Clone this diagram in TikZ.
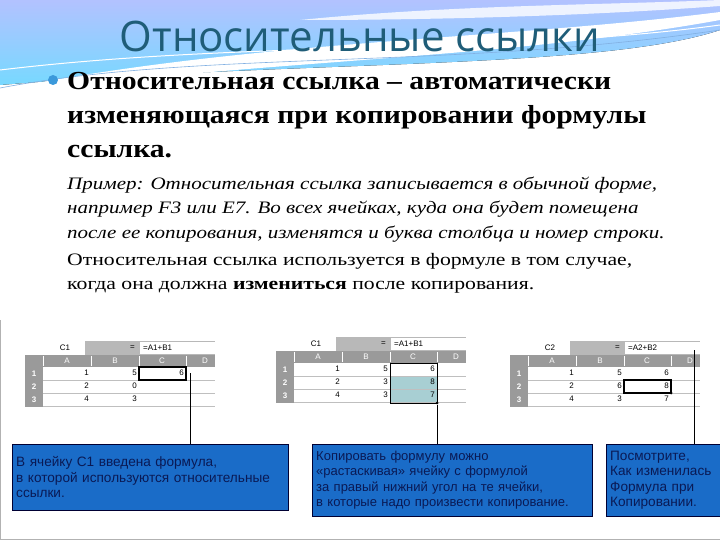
\documentclass[tikz,border=0pt]{standalone}
\usepackage{fontspec}
\setmainfont{Liberation Serif}
\newfontfamily\titlefont{Open Sans}
\newfontfamily\boxfont{Liberation Sans}
\begin{document}
\begin{tikzpicture}[x=1pt,y=-1pt,
  boxstyle/.style={draw=black!80!blue,fill=boxblue,anchor=north west,inner sep=4pt,align=left,text=navy,font=\boxfont\fontsize{13.6}{15.5}\selectfont},
  cellnum/.style={font=\boxfont\fontsize{8}{9}\selectfont,anchor=east,inner sep=1pt},
  hdr/.style={font=\boxfont\fontsize{8}{9}\selectfont,inner sep=1pt},
  bodytext/.style={anchor=base west,inner sep=0pt}]
\definecolor{boxblue}{HTML}{1A6CC8}
\definecolor{navy}{HTML}{0A1A55}
\definecolor{titleblue}{HTML}{1F5D78}
\definecolor{hgrey}{HTML}{9A9A9A}
\definecolor{cellshade}{HTML}{A8CFD3}
\useasboundingbox (0,0) rectangle (720,540);
\fill[white] (0,0) rectangle (720,540);
% header wave
\fill[top color=cyan!20!blue!30!white,bottom color=cyan!45!white!85!blue] (0,0) -- (720,0) -- (720,30) .. controls (600,70) and (300,60) .. (0,85) -- cycle;
\fill[white] (0,90) .. controls (250,40) and (500,40) .. (720,12) -- (720,20) .. controls (500,60) and (250,60) .. (0,95) -- cycle;
\fill[white,opacity=0.8] (300,20) .. controls (450,5) and (600,5) .. (720,0) -- (720,6) .. controls (600,15) and (450,20) .. (300,20) -- cycle;
\draw[white,line width=1pt] (0,70) .. controls (250,40) and (500,55) .. (720,25);
\draw[cyan!60!blue!50,line width=0.6pt] (0,88) .. controls (200,50) and (450,70) .. (720,30);
\draw[gray!60,line width=0.8pt] (0.5,320) -- (0.5,539.5) -- (719.5,539.5);
\node[anchor=base,text=titleblue,font=\titlefont\fontsize{42}{46}\selectfont,inner sep=0] (title) at (360,52) {Относительные ссылки};
% bullet
\fill[cyan!70!blue!80] (53,80) circle (5);
\node[bodytext,font=\bfseries\fontsize{26}{30}\selectfont] (l1) at (67,90) {\scalebox{1.14}[1]{Относительная ссылка – автоматически}};
\node[bodytext,font=\bfseries\fontsize{26}{30}\selectfont] (l2) at (67,124) {\scalebox{1.14}[1]{изменяющаяся при копировании формулы}};
\node[bodytext,font=\bfseries\fontsize{26}{30}\selectfont] (l3) at (67,158) {\scalebox{1.14}[1]{ссылка.}};
\node[bodytext,font=\itshape\fontsize{17.5}{20}\selectfont] (i1) at (67,190) {\scalebox{1.2}[1]{Пример: Относительная ссылка записывается в обычной форме,}};
\node[bodytext,font=\itshape\fontsize{17.5}{20}\selectfont] (i2) at (67,214) {\scalebox{1.2}[1]{например F3 или E7. Во всех ячейках, куда она будет помещена}};
\node[bodytext,font=\itshape\fontsize{17.5}{20}\selectfont] (i3) at (67,238) {\scalebox{1.2}[1]{после ее копирования, изменятся и буква столбца и номер строки.}};
\node[bodytext,font=\fontsize{17.5}{20}\selectfont] (r1) at (67,265) {\scalebox{1.24}[1]{Относительная ссылка используется в формуле в том случае,}};
\node[bodytext,font=\fontsize{17.5}{20}\selectfont] (r2) at (67,289) {\scalebox{1.24}[1]{когда она должна \textbf{измениться} после копирования.}};
\newcommand{\sheet}[6]{%
 \begin{scope}[shift={(#1,#2)}]
  \fill[hgrey!70] (60,-14) rectangle (190,0);
  \fill[white] (115,-13) rectangle (190,-1);
  \node[hdr,anchor=west] at (104,-7) {=};
  \node[hdr,anchor=west] at (117,-7) {#4};
  \node[hdr] at (40,-7) {#3};
  \fill[hgrey] (0,0) rectangle (190,12);
  \foreach \c/\xx in {A/42,B/90,C/137,D/180}{\node[hdr,text=white] at (\xx,6) {\c};}
  \foreach \xx in {18,66,114,161}{\draw[white] (\xx,1) -- (\xx,11);}
  \fill[hgrey] (0,12) rectangle (18,52);
  \foreach \r in {1,2,3}{\node[hdr,text=white,font=\boxfont\bfseries\fontsize{8}{9}\selectfont] at (9,12+13*\r-6) {\r};}
  #6
  \foreach \r in {1,2,3}{\draw[gray!50] (18,12+13*\r) -- (190,12+13*\r);}
  #5
 \end{scope}}
\sheet{25}{355}{C1}{=A1+B1}{%
  \node[cellnum] at (65,18) {1};\node[cellnum] at (113,18) {5};\node[cellnum] at (160,18) {6};
  \node[cellnum] at (65,31) {2};\node[cellnum] at (113,31) {0};
  \node[cellnum] at (65,44) {4};\node[cellnum] at (113,44) {3};
  \draw[line width=1.2pt] (114,12) rectangle (161,25);}{}
\sheet{276}{351}{C1}{=A1+B1}{%
  \node[cellnum] at (65,18) {1};\node[cellnum] at (113,18) {5};\node[cellnum] at (160,18) {6};
  \node[cellnum] at (65,31) {2};\node[cellnum] at (113,31) {3};\node[cellnum] at (160,31) {8};
  \node[cellnum] at (65,44) {4};\node[cellnum] at (113,44) {3};\node[cellnum] at (160,44) {7};
  \draw[line width=0.8pt] (114,12) rectangle (161,52);
  \fill (161,52) circle (1.5);}{\fill[cellshade] (114,25) rectangle (161,52);}
\sheet{510}{355}{C2}{=A2+B2}{%
  \node[cellnum] at (65,18) {1};\node[cellnum] at (113,18) {5};\node[cellnum] at (160,18) {6};
  \node[cellnum] at (65,31) {2};\node[cellnum] at (113,31) {6};\node[cellnum] at (160,31) {8};
  \node[cellnum] at (65,44) {4};\node[cellnum] at (113,44) {3};\node[cellnum] at (160,44) {7};
  \draw[line width=1.2pt] (114,25) rectangle (161,38);
  \fill (161,38) circle (1.5);}{}
\node[boxstyle,minimum width=276pt,minimum height=66pt,text width=268pt] (b1) at (12,444) {В ячейку С1 введена формула,\\в которой используются относительные\\ссылки.};
\node[boxstyle,minimum width=276pt,minimum height=72pt,text width=272pt,font=\boxfont\fontsize{13}{15.5}\selectfont] (b2) at (312,444) {Копировать формулу можно\\«растаскивая» ячейку с формулой\\за правый нижний угол на те ячейки,\\в которые надо произвести копирование.};
\node[boxstyle,minimum width=114pt,minimum height=72pt,text width=108pt] (b3) at (606,444) {Посмотрите,\\Как изменилась\\Формула при\\Копировании.};
\coordinate (p1) at (190,373);
\coordinate (p2) at (437,405);
\coordinate (p3) at (694,350);
\draw (p1) -- (p1 |- b1.north);
\draw (p2) -- (p2 |- b2.north);
\draw (p3) -- (p3 |- b3.north);
\end{tikzpicture}
\end{document}
